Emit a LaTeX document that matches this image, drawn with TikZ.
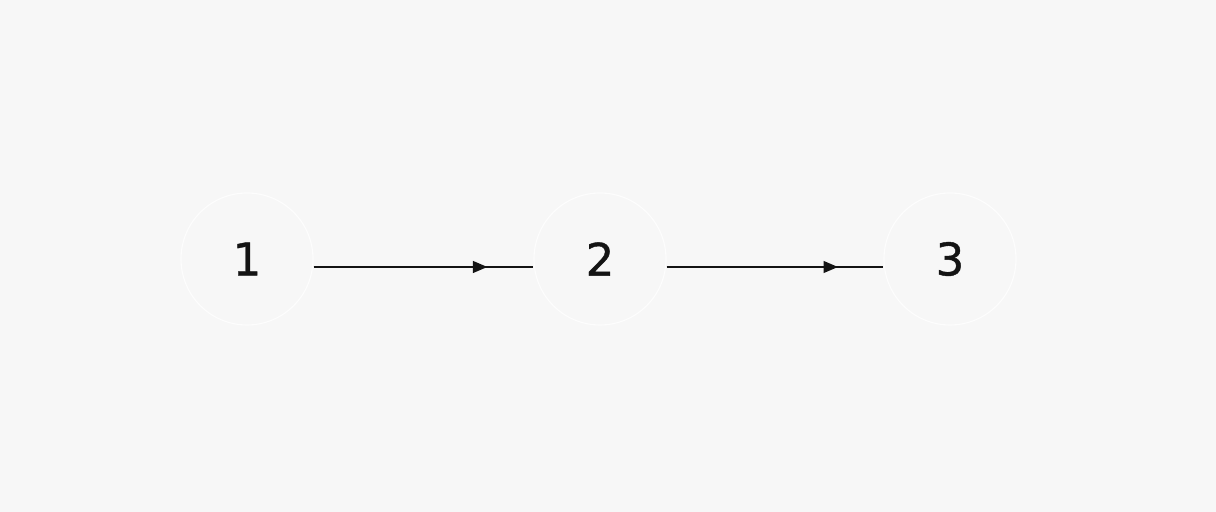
\documentclass[tikz,border=0pt]{standalone}
\usepackage{fontspec}
\setmainfont{DejaVu Sans}[FakeBold=0.9]
\usetikzlibrary{positioning, arrows.meta, decorations.markings}
\definecolor{bggray}{HTML}{F7F7F7}
\definecolor{ringwhite}{HTML}{FDFDFD}
\definecolor{inkdark}{HTML}{141414}
\tikzset{
	state/.style={
		circle,
		draw=ringwhite, line width=0.8pt,
		minimum size=3.3cm,
		inner sep=0pt,
		text centered,
		text=inkdark,
		font=\fontsize{32}{32}\selectfont,
	},
	midarrow/.style={
		draw=inkdark, line width=0.85pt,
		decoration={markings, mark=at position 0.79 with {\arrow{Triangle[length=3.6mm, width=3mm]}}},
		postaction={decorate},
	},
}

\begin{document}
\begin{tikzpicture}
        \fill[bggray] (0,0) rectangle (30.4,12.8);
        \useasboundingbox (0,0) rectangle (30.4,12.8);
        \node[state] (A) at (6.175,6.325) {\raisebox{-0.7mm}{1}};
        \node[state, right of = A, node distance =8.825cm] (B) {\raisebox{-0.7mm}{2}};
        \node[state, right of = B, node distance =8.75cm] (C) {\raisebox{-0.7mm}{3}};

        \path[midarrow] ([yshift=-2mm]A.east) -- ([yshift=-2mm]B.west);
        \path[midarrow] ([yshift=-2mm]B.east) -- ([yshift=-2mm]C.west);
    \end{tikzpicture}
\end{document}
